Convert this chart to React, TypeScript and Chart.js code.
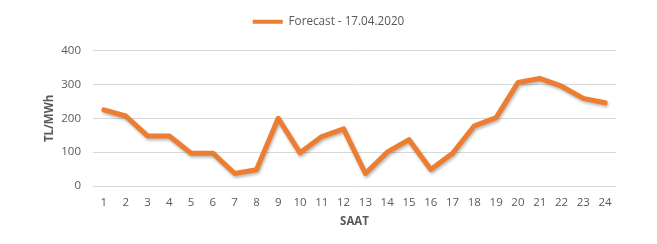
import React, { useEffect, useRef } from "react";
import { Chart, registerables } from "chart.js";

Chart.register(...registerables);

const hours: string[] = ["1","2","3","4","5","6","7","8","9","10","11","12","13","14","15","16","17","18","19","20","21","22","23","24"];
const forecast: number[] = [225, 207, 148, 148, 97, 97, 37, 48, 200, 98, 146, 169, 37, 100, 137, 49, 97, 178, 202, 306, 318, 295, 259, 246];
const seriesLabel = "Forecast - 17.04.2020";
const yTicks = { min: 0, max: 400, step: 100 };

const ORANGE = "#ED7D31";
const TEXT = "#595959";
const FONT = "'Open Sans', 'Liberation Sans', sans-serif";

const shadowPlugin = {
  id: "lineShadow",
  beforeDatasetDraw(chart: any) {
    const ctx = chart.ctx;
    ctx.save();
    ctx.shadowColor = "rgba(0,0,0,0.28)";
    ctx.shadowBlur = 3;
    ctx.shadowOffsetX = 1;
    ctx.shadowOffsetY = 2;
  },
  afterDatasetDraw(chart: any) {
    chart.ctx.restore();
  },
};

const legendGapPlugin = {
  id: "legendGap",
  beforeInit(chart: any) {
    const legend = chart.legend;
    if (!legend) return;
    const orig = legend.fit;
    legend.fit = function () {
      orig.call(this);
      this.height += 13;
    };
  },
};

export default function App() {
  const ref = useRef<HTMLCanvasElement | null>(null);
  useEffect(() => {
    if (!ref.current) return;
    const chart = new Chart(ref.current, {
      type: "line",
      data: {
        labels: hours,
        datasets: [
          {
            label: seriesLabel,
            data: forecast,
            borderColor: ORANGE,
            backgroundColor: ORANGE,
            borderWidth: 5,
            pointRadius: 0,
            pointHoverRadius: 0,
            tension: 0,
            borderJoinStyle: "round",
            borderCapStyle: "round",
            clip: false as any,
          },
        ],
      },
      options: {
        animation: false,
        responsive: false,
        maintainAspectRatio: false,
        layout: { padding: { left: 0, right: 0, top: 6, bottom: 0 } },
        plugins: {
          tooltip: { enabled: false },
          legend: {
            display: true,
            position: "top",
            labels: {
              color: TEXT,
              font: { family: FONT, size: 11.7 },
              boxWidth: 30,
              boxHeight: 4,
              padding: 10,
              generateLabels(chart: any) {
                const items = Chart.defaults.plugins.legend.labels.generateLabels(chart);
                return items.map((it: any) => ({ ...it, lineWidth: 0, strokeStyle: ORANGE, fillStyle: ORANGE }));
              },
            },
          },
        },
        scales: {
          x: {
            offset: true,
            grid: { display: false, drawTicks: false },
            border: { display: false },
            ticks: { color: TEXT, font: { family: FONT, size: 11.5 }, padding: 10, maxRotation: 0, autoSkip: false },
            title: { display: true, text: "SAAT", color: TEXT, font: { family: FONT, size: 11.5, weight: "bold" }, padding: { top: 4, bottom: 15 } },
            afterFit(scale: any) {
              scale.height = 58;
            },
          },
          y: {
            min: yTicks.min,
            max: yTicks.max,
            ticks: { stepSize: yTicks.step, color: TEXT, font: { family: FONT, size: 11.5 }, padding: 12 },
            grid: { color: "#D9D9D9", drawTicks: false, lineWidth: 1 },
            border: { display: false },
            title: { display: true, text: "TL/MWh", color: TEXT, font: { family: FONT, size: 11.5, weight: "bold" }, padding: { top: 43, bottom: 0 } },
            afterFit(scale: any) {
              scale.width = 93;
            },
          },
          yRight: {
            position: "right",
            display: true,
            min: yTicks.min,
            max: yTicks.max,
            grid: { display: false, drawTicks: false },
            border: { display: false },
            ticks: { display: false },
            afterFit(scale: any) {
              scale.width = 41;
            },
          },
        },
      },
      plugins: [shadowPlugin, legendGapPlugin],
    });
    return () => chart.destroy();
  }, []);
  return (
    <div style={{ position: "fixed", left: 0, top: 0, width: 657, height: 244, background: "#fff" }}>
      <canvas ref={ref} width={657} height={244} style={{ width: 657, height: 244, display: "block" }} />
    </div>
  );
}
